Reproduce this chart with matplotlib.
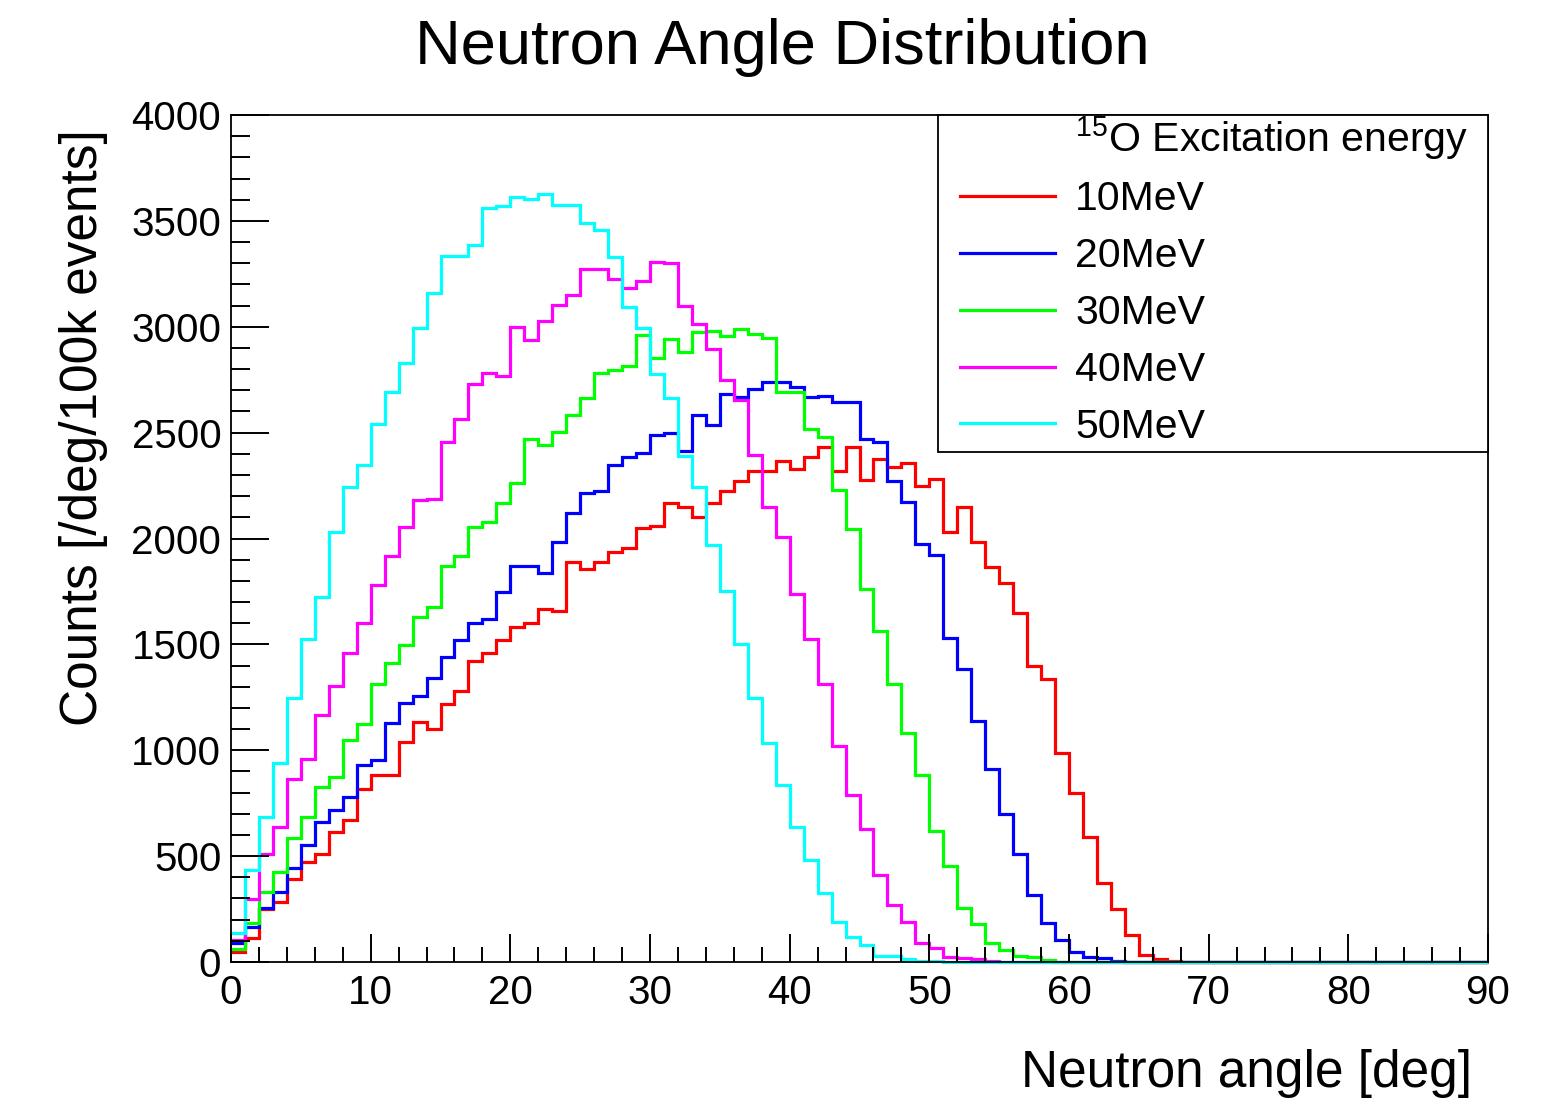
import numpy as np
import matplotlib
matplotlib.use("Agg")
import matplotlib.pyplot as plt
from matplotlib.lines import Line2D
from matplotlib.patches import Rectangle
from matplotlib.ticker import MultipleLocator

plt.rcParams["font.family"] = ["Liberation Sans", "DejaVu Sans"]
plt.rcParams["mathtext.fontset"] = "custom"
plt.rcParams["mathtext.rm"] = "Liberation Sans"

NBINS = 90
edges = np.arange(0, NBINS + 1)


def pad(vals):
    return np.array(vals + [0] * (NBINS - len(vals)), dtype=float)


# counts per 1-degree bin
e10 = pad([49, 115, 249, 285, 390, 474, 510, 615, 671, 818, 883, 883, 1040, 1135, 1100,
           1218, 1281, 1423, 1461, 1520, 1583, 1602, 1667, 1659, 1890, 1854, 1890, 1938, 1953, 2050,
           2058, 2169, 2150, 2103, 2169, 2226, 2271, 2320, 2320, 2366, 2327, 2386, 2431, 2320, 2431,
           2276, 2374, 2336, 2355, 2248, 2280, 2032, 2147, 1985, 1867, 1788, 1650, 1398, 1335, 988,
           800, 589, 372, 249, 128, 33, 15, 5])
e20 = pad([90, 167, 253, 332, 442, 552, 663, 718, 778, 930, 954, 1127, 1224, 1256, 1340,
           1442, 1522, 1600, 1618, 1749, 1870, 1870, 1835, 1985, 2122, 2216, 2226, 2347, 2386, 2404,
           2487, 2500, 2413, 2583, 2536, 2682, 2670, 2705, 2740, 2740, 2717, 2667, 2674, 2646, 2646,
           2472, 2455, 2273, 2174, 1972, 1922, 1529, 1382, 1140, 910, 698, 510, 316, 186, 104,
           49, 22, 20, 5])
e30 = pad([60, 183, 332, 427, 587, 686, 825, 875, 1048, 1124, 1313, 1413, 1497, 1628, 1677,
           1870, 1917, 2056, 2079, 2169, 2264, 2468, 2442, 2504, 2583, 2662, 2783, 2796, 2815, 2962,
           2851, 2940, 2882, 2977, 2981, 2956, 2989, 2964, 2945, 2693, 2693, 2515, 2481, 2229, 2043,
           1760, 1565, 1311, 1080, 883, 619, 455, 254, 179, 91, 57, 28, 22, 8])
e40 = pad([104, 296, 510, 639, 863, 957, 1166, 1303, 1458, 1602, 1780, 1917, 2056, 2182, 2188,
           2457, 2563, 2730, 2780, 2767, 3000, 2937, 3029, 3103, 3150, 3271, 3271, 3225, 3181, 3217,
           3308, 3299, 3098, 3013, 2893, 2748, 2654, 2394, 2147, 2006, 1738, 1525, 1313, 1020, 789,
           630, 411, 269, 190, 91, 65, 25, 18, 12, 5])
e50 = pad([138, 434, 686, 940, 1247, 1525, 1724, 2032, 2245, 2347, 2541, 2693, 2830, 2992, 3158,
           3334, 3334, 3386, 3559, 3572, 3611, 3602, 3627, 3575, 3575, 3488, 3457, 3328, 3095, 2992,
           2777, 2662, 2390, 2245, 1969, 1754, 1500, 1245, 1033, 836, 639, 482, 324, 190, 120,
           80, 30, 28, 12, 6, 3, 2, 1])

series = [e10, e20, e30, e40, e50]
labels = ["10MeV", "20MeV", "30MeV", "40MeV", "50MeV"]
colors = ["#ff0000", "#0000ff", "#00ff00", "#ff00ff", "#00ffff"]

fig = plt.figure(figsize=(15.53, 10.99), dpi=100)
ax = fig.add_axes([231 / 1553, 137 / 1099, 1257 / 1553, 847 / 1099])

for vals, lab, col in zip(series, labels, colors):
    ax.stairs(vals, edges, baseline=None, color=col, lw=2.3, label=lab, clip_on=False)

ax.set_xlim(0, 90)
ax.set_ylim(0, 4000)
ax.xaxis.set_major_locator(MultipleLocator(10))
ax.xaxis.set_minor_locator(MultipleLocator(2))
ax.yaxis.set_major_locator(MultipleLocator(500))
ax.yaxis.set_minor_locator(MultipleLocator(100))
ax.tick_params(axis="both", which="both", direction="in", width=1.4, labelsize=29)
ax.tick_params(axis="x", which="major", length=20, pad=9)
ax.tick_params(axis="x", which="minor", length=11)
ax.tick_params(axis="y", which="major", length=27, pad=7)
ax.tick_params(axis="y", which="minor", length=14)
for sp in ax.spines.values():
    sp.set_linewidth(1.3)

ax.set_xlabel("Neutron angle [deg]", fontsize=37, ha="right")
ax.xaxis.set_label_coords(0.987, -0.103)
ax.set_ylabel("Counts [/deg/100k events]", fontsize=37, ha="right")
ax.yaxis.set_label_coords(-0.098, 0.983)

fig.text(0.504, 0.957, "Neutron Angle Distribution", fontsize=45.5, ha="center", va="center")

# legend box drawn separately (ROOT-like padding)
ax.add_patch(Rectangle((0.5625, 0.602), 0.4375, 0.398, transform=ax.transAxes,
                       facecolor="white", edgecolor="black", lw=1.3, zorder=5, clip_on=False))
header = Line2D([], [], color="none")
handles = [header] + [Line2D([], [], color=c, lw=2.3) for c in colors]
leg = ax.legend(handles, ["$^{15}$O Excitation energy"] + labels,
                loc="upper left", bbox_to_anchor=(0.58, 1.0015), frameon=False,
                fontsize=29.5, handlelength=2.32, handletextpad=0.49, borderpad=0,
                labelspacing=0.46, borderaxespad=0)
leg.set_zorder(6)

fig.savefig("out.png", dpi=100)
